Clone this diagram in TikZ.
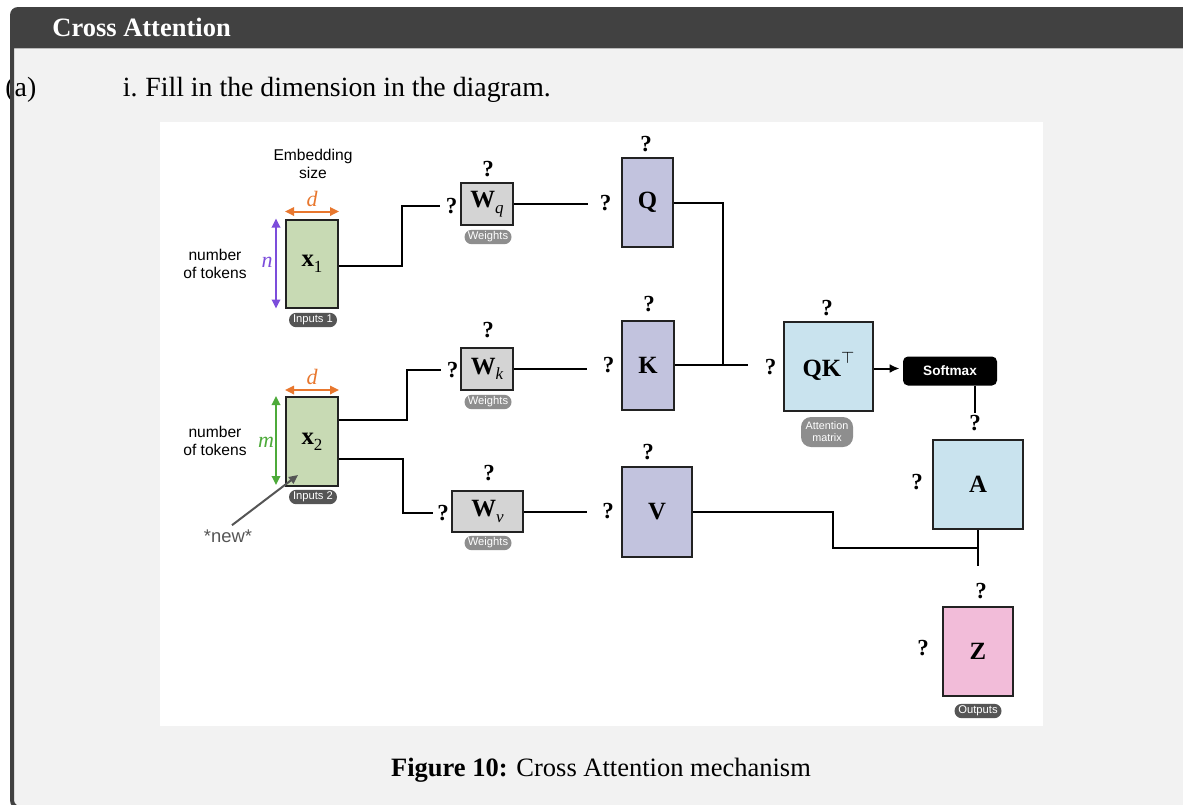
\documentclass[tikz,border=0pt]{standalone}
\usepackage{fontspec}
\setmainfont{Liberation Serif}
\setsansfont{Liberation Sans}
\usetikzlibrary{arrows.meta,calc}

\definecolor{headgray}{HTML}{414141}
\definecolor{bodygray}{HTML}{F2F2F2}
\definecolor{inpgreen}{HTML}{C8DAB4}
\definecolor{projlav}{HTML}{C2C3DE}
\definecolor{attblue}{HTML}{C9E3EE}
\definecolor{outpink}{HTML}{F2BCD9}
\definecolor{wgray}{HTML}{D4D4D4}
\definecolor{pilldark}{HTML}{555555}
\definecolor{pilllight}{HTML}{8E8E8E}
\definecolor{dimorange}{HTML}{E8772E}
\definecolor{dimpurple}{HTML}{7C4DDB}
\definecolor{dimgreen}{HTML}{4DAA3A}
\definecolor{boxline}{HTML}{222222}

\newcommand{\fs}[1]{\fontsize{#1}{#1}\selectfont}
\newcommand{\sbs}[1]{\raisebox{-0.5ex}{\fs{8.5}\mdseries #1}}

\tikzset{
  sz/.style 2 args={minimum width=#1*0.5pt, minimum height=#2*0.5pt},
  mat/.style={draw=boxline, line width=1pt, inner sep=0pt, font=\fs{12.4}\bfseries},
  qm/.style={font=\fs{11.5}\bfseries, inner sep=1pt},
  pill/.style={fill=#1, text=white, rounded corners=3.6pt, inner sep=0pt,
    minimum height=7.2pt, font=\sffamily\fs{5.6}},
  wire/.style={line width=1pt, black},
  gap/.style={shorten >=#1*0.5pt},
  note/.style={font=\sffamily\fontsize{7.8}{9}\selectfont, align=center, inner sep=0pt},
  dimvar/.style={font=\fs{11}\itshape, text=#1, inner sep=0pt},
  dimarrow/.style={#1, line width=1pt, {Triangle[length=4.5pt,width=4.2pt]}-{Triangle[length=4.5pt,width=4.2pt]}},
  prose/.style={inner sep=0pt, font=\fs{13.9}},
}

\begin{document}
\begin{tikzpicture}[x=0.5pt, y=-0.5pt]
\useasboundingbox (0,0) rectangle (1183,804);
\clip (0,0) rectangle (1183,804);
\fill[white] (0,0) rectangle (1183,804);

% exercise frame: body, header bar
\fill[bodygray, rounded corners=4pt] (10,7) rectangle (1220,810);
\begin{scope}
  \clip[rounded corners=4pt] (10,7) rectangle (1220,810);
  \fill[headgray] (0,0) rectangle (1220,48);
\end{scope}
\draw[gray!55, line width=0.6pt] (13,48.5) -- (1220,48.5);

\node[anchor=base west, inner sep=0pt, font=\fs{13.25}\bfseries, text=white] (title) at (52,36) {Cross Attention};
\node[prose, anchor=base west] (part) at (5,96) {(a)};
\node[prose, anchor=base east] (item) at (138,96) {i.};
\node[prose, anchor=base west] (task) at (145,96) {Fill in the dimension in the diagram.};

% left rule of the frame
\draw[headgray, line width=2pt, rounded corners=4pt] (12,40) -- (12,808) -- (40,808);

% figure panel
\fill[white] (160,122) rectangle (1043,726);

% ---- inputs ----
\node[mat, sz={52}{88}, fill=inpgreen] (x1) at (312,263.5) {x\sbs{1}};
\node[mat, sz={52}{89}, fill=inpgreen] (x2) at (312,441.5) {x\sbs{2}};

\node[note] (emb) at (313,164) {Embedding\\size};
\node[dimvar=dimorange] (d1) at (312,199) {d};
\node[dimvar=dimorange] (d2) at (312,377) {d};
\draw[dimarrow=dimorange] ($(x1.north west)+(0,-7)$) -- ($(x1.north east)+(0,-7)$);
\draw[dimarrow=dimorange] ($(x2.north west)+(0,-6)$) -- ($(x2.north east)+(0,-6)$);

\node[dimvar=dimpurple] (n) at (267,262) {n};
\draw[dimarrow=dimpurple] ($(x1.north west)+(-9,0)$) -- ($(x1.south west)+(-9,0)$);
\node[dimvar=dimgreen] (m) at (266,442) {m};
\draw[dimarrow=dimgreen] ($(x2.north west)+(-9,0)$) -- ($(x2.south west)+(-9,-2)$);

\node[note] (tok1) at (215,264) {number\\of tokens};
\node[note] (tok2) at (215,441) {number\\of tokens};

\node[pill=pilldark, minimum width=24pt] (in1) at (313,320) {Inputs 1};
\node[pill=pilldark, minimum width=24pt] (in2) at (313,497) {Inputs 2};

\node[font=\sffamily\fs{9.2}, text=pilldark, inner sep=0pt] (new) at (228,536) {*new*};
\coordinate (newtip) at (298,475);
\draw[pilldark, line width=1pt, -{Triangle[length=4.5pt,width=4pt]}] ([xshift=2pt,yshift=2pt]new.north) -- (newtip);

% ---- projection weights ----
\node[mat, sz={52}{42}, fill=wgray] (Wq) at (487,204) {W\sbs{\itshape q}};
\node[mat, sz={52}{42}, fill=wgray] (Wk) at (487,369) {W\sbs{\itshape k}};
\node[mat, sz={71}{41}, fill=wgray] (Wv) at (487.5,511.5) {W\sbs{\itshape v}};
\node[pill=pilllight, minimum width=23.5pt] (wq-tag) at (488,237) {Weights};
\node[pill=pilllight, minimum width=23.5pt] (wk-tag) at (488,402) {Weights};
\node[pill=pilllight, minimum width=23.5pt] (wv-tag) at (488,543) {Weights};

\node[qm] (tWq) at (488,169) {?};
\node[qm] (lWq) at (451.5,206) {?};
\node[qm] (tWk) at (488,330) {?};
\node[qm] (lWk) at (452.5,370) {?};
\node[qm] (tWv) at (489,473) {?};
\node[qm] (lWv) at (443,513) {?};

% ---- queries, keys, values ----
\node[mat, sz={51}{89}, fill=projlav] (Q) at (647.5,202.5) {Q};
\node[mat, sz={52}{89}, fill=projlav] (K) at (648,365) {K};
\node[mat, sz={70}{90}, fill=projlav] (V) at (657,512) {V};

\node[qm] (tQ) at (646,144) {?};
\node[qm] (lQ) at (605.5,203) {?};
\node[qm] (tK) at (649,304) {?};
\node[qm] (lK) at (608.5,365) {?};
\node[qm] (tV) at (648,452) {?};
\node[qm] (lV) at (608,511) {?};

% ---- attention ----
\node[mat, sz={89}{89}, fill=attblue] (QKT) at (828.5,366.5) {QK\raisebox{1.1ex}{\fs{8}\mdseries$\top$}};
\node[pill=pilllight, minimum width=26pt, minimum height=15pt, rounded corners=5pt,
      align=center, font=\sffamily\fontsize{5.4}{5.9}\selectfont] (att-tag) at (827,432) {Attention\\matrix};
\node[qm] (tQKT) at (827,308) {?};
\node[qm] (lQKT) at (770.5,367) {?};

\node[fill=black, rounded corners=2.5pt, sz={94}{29}, inner sep=0pt, text=white,
      font=\sffamily\bfseries\fs{6.8}] (Softmax) at (950,371) {Softmax};

\node[mat, sz={90}{89}, fill=attblue] (A) at (978,484.5) {A};
\node[qm] (tA) at (975,423) {?};
\node[qm] (lA) at (917,482) {?};

\node[mat, sz={70}{89}, fill=outpink] (Z) at (978,651.5) {Z};
\node[qm] (tZ) at (981,591) {?};
\node[qm] (lZ) at (923,648) {?};
\node[pill=pilldark, minimum width=23.5pt] (out-tag) at (978,711) {Outputs};

% ---- connectors ----
\draw[wire, gap=3] ($(x1.east)+(0,2.5)$) -- ++(63,0) |- (lWq.west);
\draw[wire, gap=3] ($(x2.east)+(0,-21.5)$) -- ++(68,0) |- (lWk.west);
\draw[wire, gap=2] ($(x2.east)+(0,17.5)$) -- ++(64,0) |- (lWv.west);

\draw[wire, gap=9] (Wq.east) -- (Wq.east -| lQ.west);
\draw[wire, gap=13] (Wk.east) -- (Wk.east -| lK.west);
\draw[wire, gap=13] (Wv.east) -- (Wv.east -| lV.west);

\draw[wire] (Q.east) -- ++(49,0) coordinate (jq) -- (jq |- K.east);
\draw[wire, gap=14] (K.east) -- (K.east -| lQKT.west);
\draw[wire, -{Latex[length=5pt,width=4.5pt]}] ($(QKT.east)+(0,2)$) -- ($(QKT.east -| Softmax.west)+(-3,2)$);
\draw[wire] (Softmax.south -| tA) -- (tA.north);
\draw[wire] (V.east) -- ++(140,0) |- ($(A.south)+(0,18)$);
\draw[wire, gap=15] (A.south) -- (A.south |- tZ.north);

% caption
\node[anchor=base, font=\fs{13.25}] (cap) at (601,776) {\textbf{Figure 10:} Cross Attention mechanism};
\end{tikzpicture}
\end{document}
